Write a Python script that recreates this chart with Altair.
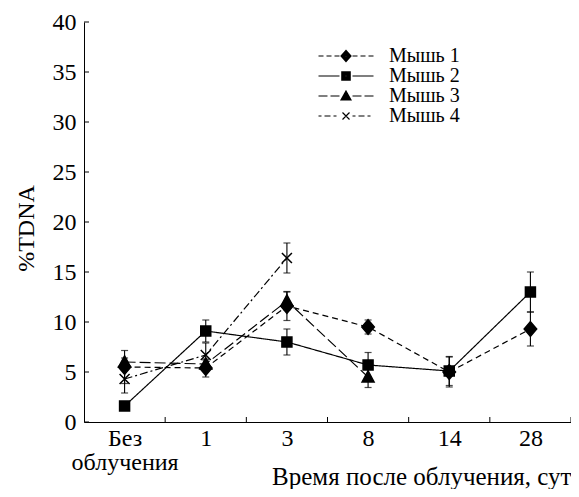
import json
import altair as alt
import pandas as pd

# ---------------- data ----------------
x_labels = [["Без", "облучения"], "1", "3", "8", "14", "28"]
series_names = ["Мышь 1", "Мышь 2", "Мышь 3", "Мышь 4"]

mouse1_y = [5.5, 5.4, 11.6, 9.5, 5.0, 9.3]
mouse1_err = [1.65, 0.9, 1.45, 0.7, 1.5, 1.7]
mouse2_y = [1.6, 9.1, 8.0, 5.7, 5.1, 13.0]
mouse2_err = [0.3, 1.1, 1.3, 1.25, 1.45, 2.0]
mouse3_y = [6.0, 5.8, 12.1, 4.5]
mouse3_err = [0.4, 0.4, 0.9, 1.05]
mouse4_y = [4.3, 6.7, 16.4]
mouse4_err = [1.4, 1.2, 1.5]

y_ticks = [0, 5, 10, 15, 20, 25, 30, 35, 40]
x_positions = [0, 1, 2, 3, 4, 5]
x_tick_bounds = [0.5, 1.5, 2.5, 3.5, 4.5, 5.5]

rows = []
for name, ys, es in zip(series_names,
                        [mouse1_y, mouse2_y, mouse3_y, mouse4_y],
                        [mouse1_err, mouse2_err, mouse3_err, mouse4_err]):
    for i, (v, e) in enumerate(zip(ys, es)):
        rows.append({"series": name, "xi": i, "value": v, "lo": v - e, "hi": v + e})
df = pd.DataFrame(rows)
ticks_y_df = pd.DataFrame({"t": y_ticks})
ticks_x_df = pd.DataFrame({"b": x_tick_bounds})

# ---------------- styles ----------------
FONT = "Liberation Serif"
dash_patterns = [[6, 4], [1, 0], [11, 4], [8, 3, 2, 3]]

marker_paths = [
    "M0,-1.45L1.25,0L0,1.45L-1.25,0Z",
    "M-1,-1H1V1H-1Z",
    "M0,-1.25L1.2,1L-1.2,1Z",
    "M-1,-1L1,1M-1,1L1,-1",
]

LEG_SIZE = 196
U = (LEG_SIZE ** 0.5) / 2.0  # px per path unit in legend symbols


def seg_path(x0, x1, pattern, unit=U):
    """line pieces between x0 and x1 (px), as symbol path in units"""
    if pattern == [1, 0]:
        return "M%.3f,0L%.3f,0" % (x0 / unit, x1 / unit)
    out = []
    x = x0
    k = 0
    while x < x1:
        d = pattern[k % len(pattern)]
        if k % 2 == 0:
            end = min(x + d, x1)
            out.append("M%.3f,0L%.3f,0" % (x / unit, end / unit))
        x += d
        k += 1
    return "".join(out)


def solid(poly_fn, steps=5):
    """outline drawn several times shrinking, so a stroke-only symbol looks filled"""
    return "".join(poly_fn(1.0 - k / steps) for k in range(steps))


def px(v):
    return v / U


legend_markers = [
    solid(lambda s: "M0,%.3fL%.3f,0L0,%.3fL%.3f,0Z" % (px(-5.5 * s), px(5 * s), px(5.5 * s), px(-5 * s))),
    solid(lambda s: "M%.3f,%.3fH%.3fV%.3fH%.3fZ" % (px(-4.2 * s), px(-4.2 * s), px(4.2 * s), px(4.2 * s), px(-4.2 * s))),
    solid(lambda s: "M0,%.3fL%.3f,%.3fL%.3f,%.3fZ" % (px(-5 * s + 1 * (1 - s)), px(5 * s), px(4 * s), px(-5 * s), px(4 * s))),
    "M%.3f,%.3fL%.3f,%.3fM%.3f,%.3fL%.3f,%.3f" % (px(-3.5), px(-3.5), px(3.5), px(3.5), px(-3.5), px(3.5), px(3.5), px(-3.5)),
]
legend_dash = [[5, 3], [1, 0], [9, 3], [3, 3, 6, 3]]
legend_paths = []
for mk, pat in zip(legend_markers, legend_dash):
    left = seg_path(-27.5, -6.5, pat)
    right = seg_path(6.5, 27.5, pat)
    legend_paths.append(left + right + mk)

label_expr = json.dumps(x_labels, ensure_ascii=False).replace('"', "'") + "[datum.value]"

x_scale = alt.Scale(domain=[-0.5, 5.5], nice=False, zero=False)
y_scale = alt.Scale(domain=[0, 40], nice=False)

x_axis = alt.Axis(
    values=x_positions, labelExpr=label_expr, ticks=False, grid=False,
    labelPadding=4, labelBaseline="top", labelLineHeight=24, labelOverlap=False,
    labelFlush=False, labelAlign="center",
    title="Время после облучения, сут", titleX=487, titleY=62,
    titleAlign="right", titleBaseline="alphabetic", titleAnchor="end",
    titleFontSize=25,
)
y_axis = alt.Axis(
    values=y_ticks, ticks=False, grid=False, labelPadding=8,
    title="%TDNA", titleX=-51, titleY=206, titleAngle=270,
    titleAlign="center", titleBaseline="alphabetic", titleAnchor="middle",
)

X = alt.X("xi:Q", scale=x_scale, axis=x_axis)
Y = alt.Y("value:Q", scale=y_scale, axis=y_axis)

base = alt.Chart(df)

lines = base.mark_line(color="black", strokeWidth=1.2).encode(
    x=X, y=Y,
    strokeDash=alt.StrokeDash("series:N", scale=alt.Scale(domain=series_names, range=dash_patterns), legend=None),
    detail="series:N",
)

err_rules = base.mark_rule(color="black", strokeWidth=1.1).encode(
    x=X,
    y=alt.Y("lo:Q", scale=y_scale, axis=y_axis),
    y2="hi:Q",
)
cap_lo = base.mark_tick(color="black", orient="horizontal", size=7, thickness=1.2).encode(
    x=X, y=alt.Y("lo:Q", scale=y_scale, axis=y_axis))
cap_hi = base.mark_tick(color="black", orient="horizontal", size=7, thickness=1.2).encode(
    x=X, y=alt.Y("hi:Q", scale=y_scale, axis=y_axis))

points = base.mark_point(filled=True, color="black", stroke="black", strokeWidth=1.5,
                         opacity=1, size=100).encode(
    x=X, y=Y,
    shape=alt.Shape("series:N", scale=alt.Scale(domain=series_names, range=marker_paths), legend=None),
    order=alt.Order("series:N", sort="descending"),
)

legend_layer = base.transform_filter("false").mark_point(
    filled=False, color="black", strokeWidth=1.2, opacity=1
).encode(
    x=X, y=Y,
    shape=alt.Shape(
        "series:N",
        scale=alt.Scale(domain=series_names, range=legend_paths),
        legend=alt.Legend(
            title=None, orient="none", legendX=252, legendY=24,
            symbolSize=LEG_SIZE, symbolFillColor="black", symbolStrokeColor="black",
            symbolStrokeWidth=1.2, symbolOpacity=1,
            labelFont=FONT, labelFontSize=20, labelColor="black",
            labelOffset=33, rowPadding=-2, padding=0,
        ),
    ),
)

y_tick_marks = alt.Chart(ticks_y_df).mark_rule(color="black", strokeWidth=1).encode(
    y=alt.Y("t:Q", scale=y_scale, axis=y_axis),
    x=alt.value(0), x2=alt.value(5),
)
x_tick_marks = alt.Chart(ticks_x_df).mark_rule(color="black", strokeWidth=1).encode(
    x=alt.X("b:Q", scale=x_scale, axis=x_axis),
    y=alt.value(400), y2=alt.value(395),
)

chart = alt.layer(
    y_tick_marks, x_tick_marks, lines, err_rules, cap_lo, cap_hi, points, legend_layer
).resolve_scale(shape="independent").properties(
    width=487, height=400,
    padding={"left": 76, "top": 14, "right": 0, "bottom": 67},
    autosize=alt.AutoSizeParams(type="none"),
    background="white",
).configure_view(stroke=None).configure_axis(
    domainColor="black", domainWidth=1,
    labelFont=FONT, labelFontSize=24, labelColor="black",
    titleFont=FONT, titleFontSize=24, titleColor="black", titleFontWeight="normal",
)

chart.save("out.html", embed_options={"renderer": "svg", "actions": False})
